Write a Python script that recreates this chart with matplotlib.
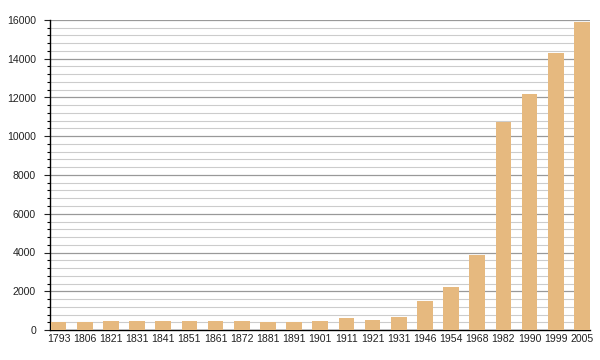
import matplotlib
matplotlib.use('Agg')
import matplotlib.pyplot as plt
from matplotlib.ticker import MultipleLocator

years = ['1793', '1806', '1821', '1831', '1841', '1851', '1861', '1872', '1881', '1891',
         '1901', '1911', '1921', '1931', '1946', '1954', '1968', '1982', '1990', '1999', '2005']
population = [430, 430, 482, 480, 480, 482, 482, 482, 413, 413,
              482, 619, 533, 671, 1500, 2240, 3880, 10750, 12180, 14300, 15900]

plt.rcParams['font.family'] = ['Liberation Sans', 'DejaVu Sans']

fig = plt.figure(figsize=(6, 3.6), dpi=100)
ax = fig.add_axes([50 / 600, 30 / 360, 540 / 600, 310 / 360])

x = list(range(len(years)))
ax.bar(x, population, width=0.6, color='#E6B97F', zorder=3)

ax.set_ylim(0, 16000)
ax.set_xlim(-0.33, len(years) - 1 + 0.31)
ax.yaxis.set_major_locator(MultipleLocator(2000))
ax.yaxis.set_minor_locator(MultipleLocator(400))
ax.grid(axis='y', which='minor', color='#cccccc', linewidth=0.8, zorder=0)
ax.grid(axis='y', which='major', color='#999999', linewidth=0.9, zorder=1)

ax.set_xticks(x)
ax.set_xticklabels(years)
ax.tick_params(axis='x', length=0, pad=3, labelsize=7.6, colors='#222222')
ax.tick_params(axis='y', which='major', length=4, width=0.8, pad=6, labelsize=7.6, colors='#222222')
ax.tick_params(axis='y', which='minor', length=2, width=0.8)

for s in ['top', 'right']:
    ax.spines[s].set_visible(False)
ax.spines['left'].set_linewidth(1)
ax.spines['bottom'].set_linewidth(1)

fig.savefig('out.png', dpi=100)
